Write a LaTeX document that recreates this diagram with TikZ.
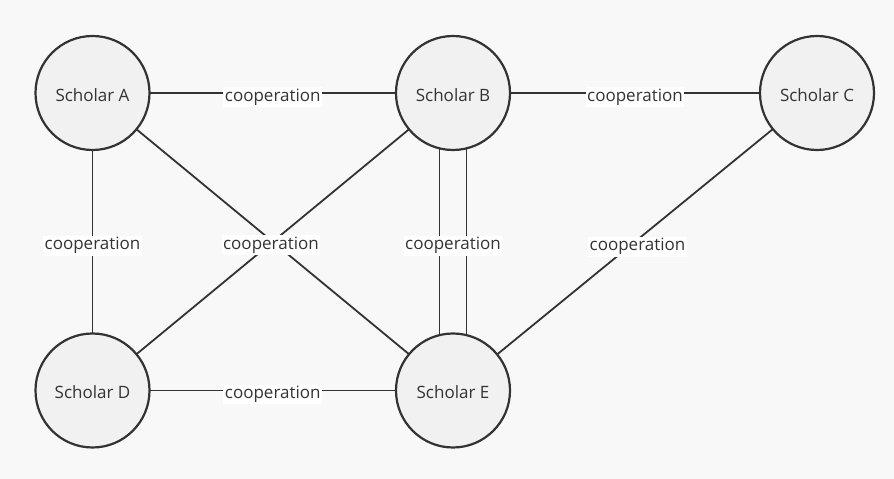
\documentclass[tikz,border=0pt]{standalone}
\usepackage{fontspec}
\setmainfont{Open Sans}
\usetikzlibrary{calc}
\pgfdeclarelayer{bg}
\pgfdeclarelayer{paperlayer}
\pgfsetlayers{paperlayer,bg,main}
\definecolor{ink}{HTML}{333333}
\definecolor{paper}{HTML}{F8F8F8}
\definecolor{disc}{HTML}{F1F1F1}
\tikzset{
  scholar/.style={circle, draw=ink, line width=2.2pt, fill=disc, minimum size=114pt,
    inner sep=0pt, text=ink, text height=17pt, text depth=0pt,
    font=\fontsize{17}{20}\selectfont},
  link/.style={draw=ink, line width=1.8pt},
  tag/.style={fill=white, inner sep=1.5pt, yshift=-4pt, text=ink,
    font=\fontsize{17}{20}\selectfont}
}
\begin{document}
\begin{tikzpicture}[x=1pt,y=1pt]
  \begin{pgfonlayer}{paperlayer}
    \fill[paper] (0,0) rectangle (894,479);
  \end{pgfonlayer}
  \useasboundingbox (0,0) rectangle (894,479);
  \node[scholar] (A) at (92.5,386) {Scholar A};
  \node[scholar] (B) at (453,386) {Scholar B};
  \node[scholar] (C) at (817,386) {Scholar C};
  \node[scholar] (D) at (92.5,88.5) {Scholar D};
  \node[scholar] (E) at (453,88.5) {Scholar E};
  \begin{pgfonlayer}{bg}
    \draw[link] (A.center) -- (B.center) node[tag, pos=0.5] (tAB) {cooperation};
    \draw[link] (B.center) -- (C.center) node[tag, pos=0.5] (tBC) {cooperation};
    \draw[link] (A.center) -- (D.center) node[tag, pos=0.5] (tAD) {cooperation};
    \draw[link] (D.center) -- (E.center) node[tag, pos=0.5] (tDE) {cooperation};
    \draw[link] (B.center) -- (D.center);
    \draw[link] (A.center) -- (E.center) node[tag, pos=0.495, yshift=-1pt] (tAE) {cooperation};
    \draw[link] ([xshift=-13.5pt]B.center) -- ([xshift=-13.5pt]E.center);
    \draw[link] ([xshift=13.5pt]B.center) -- ([xshift=13.5pt]E.center);
    \node[tag] (tBE) at ($(B.center)!0.5!(E.center)$) {cooperation};
    \draw[link] (C.center) -- (E.center) node[tag, pos=0.5, xshift=2.5pt, yshift=-1pt] (tCE) {cooperation};
  \end{pgfonlayer}
\end{tikzpicture}
\end{document}
